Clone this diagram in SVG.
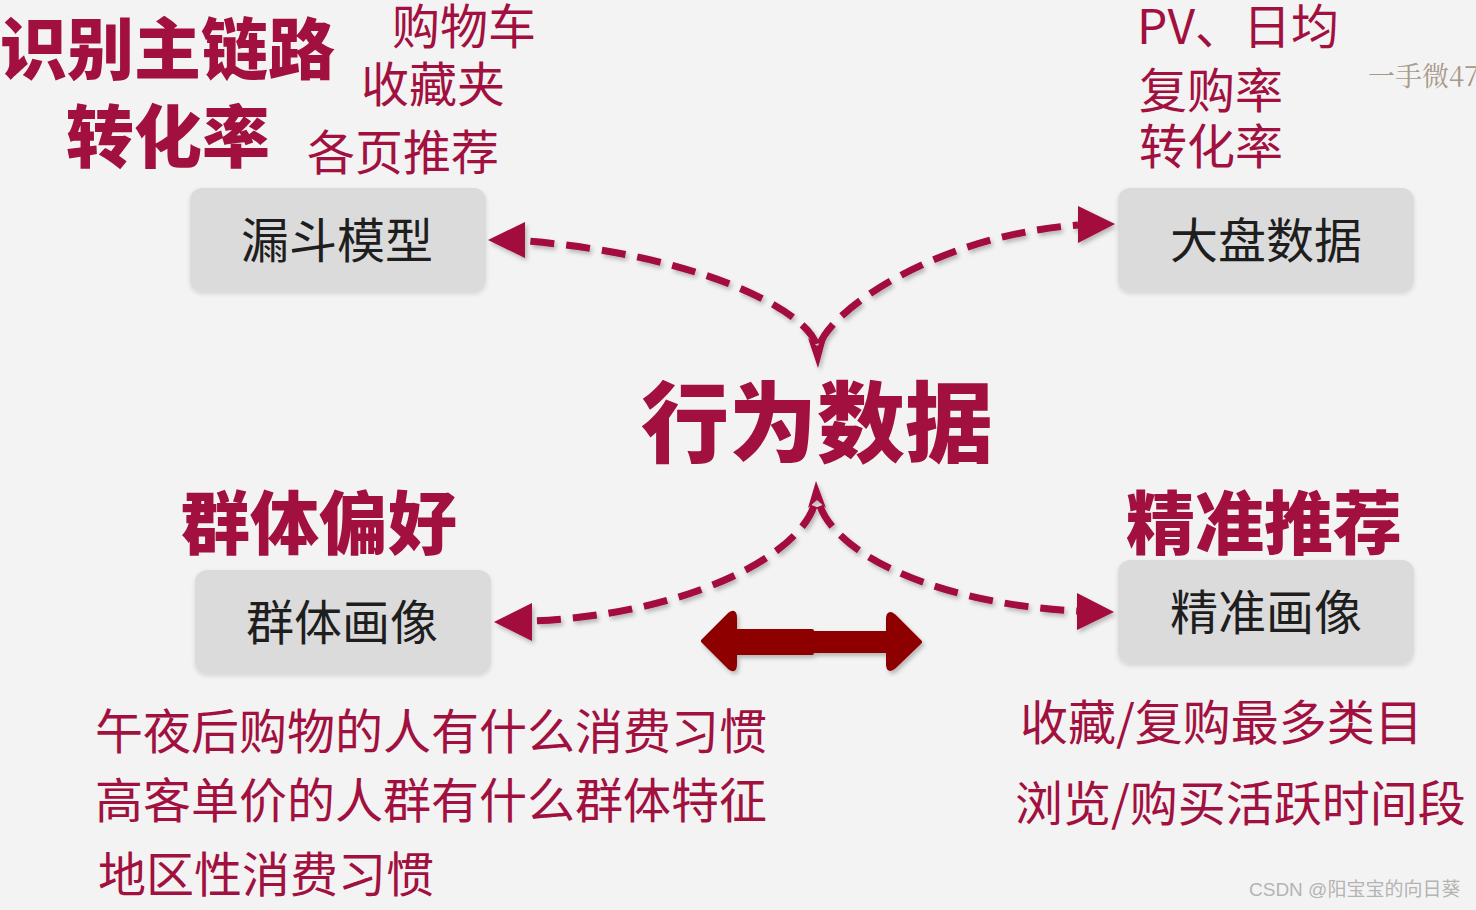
<svg xmlns="http://www.w3.org/2000/svg" width="1476" height="910" viewBox="0 0 1476 910">
<defs>
<style>
.cj{font-family:"Noto Sans CJK SC","Noto Sans",sans-serif}
.red{fill:#a1103f}
.big{font-weight:900;fill:#a1103f}
.lbl{font-size:48px;fill:#a1103f}
.box{fill:#dcdbdc}
.btx{font-size:48px;fill:#1e1e1e;text-anchor:middle}
.dash{fill:none;stroke:#a3083e;stroke-width:7;stroke-dasharray:24 12}
.head{fill:#a3083e}
</style>
<filter id="sh" x="-10%" y="-10%" width="130%" height="130%">
<feDropShadow dx="2" dy="3" stdDeviation="2" flood-color="#000" flood-opacity="0.25"/>
</filter>
<filter id="bs" x="-10%" y="-10%" width="130%" height="130%">
<feDropShadow dx="0" dy="2" stdDeviation="2" flood-color="#000" flood-opacity="0.12"/>
</filter>
</defs>
<rect width="1476" height="910" fill="#f3f3f3"/>

<g id="texts" class="cj">
<text x="0" y="74" class="big" font-size="67">识别主链路</text>
<text x="66" y="162" class="big" font-size="68">转化率</text>
<text x="392" y="44" class="lbl">购物车</text>
<text x="361" y="102" class="lbl">收藏夹</text>
<text x="307" y="170" class="lbl">各页推荐</text>
<text x="1137" y="44" class="lbl">PV、日均</text>
<text x="1139" y="108" class="lbl">复购率</text>
<text x="1139" y="164" class="lbl">转化率</text>
<text x="1368" y="86" font-size="27" fill="#a8998a" font-family="'Noto Serif CJK SC','Noto Sans CJK SC',serif">一手微47</text>
<text x="641" y="455" class="big" font-size="88">行为数据</text>
<text x="181" y="549" class="big" font-size="69">群体偏好</text>
<text x="1126" y="549" class="big" font-size="69">精准推荐</text>
<text x="95" y="749" class="lbl">午夜后购物的人有什么消费习惯</text>
<text x="95" y="818" class="lbl">高客单价的人群有什么群体特征</text>
<text x="98" y="892" class="lbl">地区性消费习惯</text>
<text x="1020" y="740" class="lbl">收藏/复购最多类目</text>
<text x="1015" y="821" class="lbl">浏览/购买活跃时间段</text>
<text x="1249" y="896" font-size="19" fill="#b4b4b4" font-family="'Liberation Sans','Noto Sans CJK SC',sans-serif">CSDN @阳宝宝的向日葵</text>
</g>

<g id="node-funnel">
<rect class="box" x="190" y="188" width="296" height="104" rx="12" filter="url(#bs)"/>
<text class="cj btx" x="337" y="258">漏斗模型</text>
</g>
<g id="node-dashboard">
<rect class="box" x="1118" y="188" width="296" height="104" rx="12" filter="url(#bs)"/>
<text class="cj btx" x="1266" y="258">大盘数据</text>
</g>
<g id="node-group">
<rect class="box" x="195" y="570" width="296" height="104" rx="12" filter="url(#bs)"/>
<text class="cj btx" x="342" y="640">群体画像</text>
</g>
<g id="node-precise">
<rect class="box" x="1118" y="560" width="296" height="104" rx="12" filter="url(#bs)"/>
<text class="cj btx" x="1266" y="630">精准画像</text>
</g>

<g id="connectors" filter="url(#sh)">
<path class="dash" d="M816,344 C805,310 700,255 526,241"/>
<polygon class="head" points="488,240 525,222 525,258"/>
<path class="dash" d="M820,344 C832,310 935,236 1078,225"/>
<polygon class="head" points="1115,224 1078,206 1078,243"/>
<polygon class="head" points="808,338 817,346 826,338 818,368"/>
<path class="dash" d="M814,506 C795,560 680,615 532,621"/>
<polygon class="head" points="494,622 532,603 532,641"/>
<path class="dash" d="M820,506 C840,560 950,605 1078,611"/>
<polygon class="head" points="1114,612 1077,593 1077,630"/>
<polygon class="head" points="808,508 817,500 826,508 816,481"/>
<path d="M703,641 L730,614 Q735,610 735,618 L735,631 L812,631 L812,633 L888,633 L888,619 Q888,611 894,616 L920,642 L894,667 Q888,672 888,664 L888,651 L812,651 L812,653 L735,653 L735,664 Q735,672 730,668 Z" fill="#8e0000" stroke="#8e0000" stroke-width="4" stroke-linejoin="round"/>
</g>
</svg>
